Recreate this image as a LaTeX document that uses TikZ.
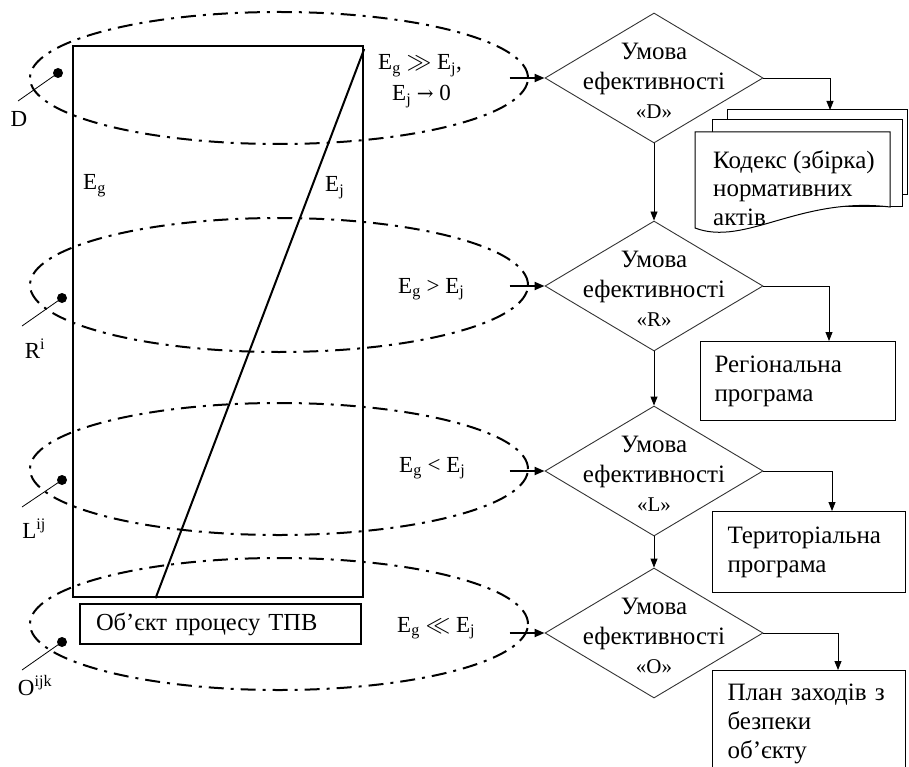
\documentclass[tikz,border=0pt]{standalone}
\usepackage{fontspec}
\setmainfont{Liberation Serif}
\newfontfamily\symfnt{DejaVu Serif}
\usetikzlibrary{shapes.geometric,arrows.meta,calc}
\begin{document}
\begin{tikzpicture}[x=1pt,y=-1pt,
  txt/.style={font=\fontsize{25}{29.5}\selectfont, inner sep=0pt},
  lab/.style={font=\fontsize{23}{27}\selectfont, inner sep=0pt, anchor=base west},
  cond/.style={draw=black!80, line width=0.9pt, shape=diamond, minimum width=218pt, minimum height=130pt, inner sep=0pt},
  outbox/.style={draw, line width=1.1pt, anchor=north west, align=left, inner xsep=14pt, inner ysep=0pt, font=\fontsize{25}{29}\selectfont},
  flow/.style={line width=0.9pt, -{Triangle[length=9pt,width=7pt]}},
  feed/.style={line width=2pt, -{Triangle[length=10pt,width=8pt]}},
  zone/.style={line width=2pt, dash pattern=on 15pt off 7pt on 3pt off 7pt},
  pin/.style={line width=0.8pt},
  dot/.style={circle, fill, inner sep=0pt, minimum size=10pt},
  docpage/.style={draw, line width=1pt, fill=white},
]
\useasboundingbox (0,0) rectangle (909,767);
\clip (0,0) rectangle (909,767);

% zones
\draw[zone] (279,78) ellipse [x radius=249pt, y radius=66pt];
\draw[zone] (279,285) ellipse [x radius=249pt, y radius=67pt];
\draw[zone] (279,469) ellipse [x radius=249pt, y radius=66pt];
\draw[zone] (279,624) ellipse [x radius=249pt, y radius=66pt];

% field
\node[draw, line width=2.2pt, minimum width=290pt, minimum height=551pt, anchor=north west, inner sep=0pt] (field) at (72,45) {};
\draw[line width=2pt] ($(field.north east)+(0,4)$) -- ($(field.south west)!0.286!(field.south east)$);
\node[draw, line width=2pt, anchor=north west, minimum height=40pt, text width=249pt, inner xsep=16pt, align=left, font=\fontsize{24.5}{29}\selectfont] (obj) at (79,603) {Об’єкт процесу ТПВ};

\node[lab] (eg) at (83,190) {E\textsubscript{g}};
\node[lab] (ej) at (325,192) {E\textsubscript{j}};

% pins
\node[dot] (pD) at (58,73) {};
\coordinate (qD) at (18,101);
\draw[pin] (pD.center) -- (qD);
\node[lab, anchor=center] (nD) at (19,119) {D};

\node[dot] (pR) at (62,298) {};
\coordinate (qR) at (22,326);
\draw[pin] (pR.center) -- (qR);
\node[lab, anchor=center] (nR) at (35,349) {R\textsuperscript{i}};

\node[dot] (pL) at (62,480) {};
\coordinate (qL) at (22,507);
\draw[pin] (pL.center) -- (qL);
\node[lab, anchor=center] (nL) at (34,529) {L\textsuperscript{ij}};

\node[dot] (pO) at (62,642) {};
\coordinate (qO) at (22,670);
\draw[pin] (pO.center) -- (qO);
\node[lab, anchor=center] (nO) at (35,686) {O\textsuperscript{ijk}};

% condition labels
\node[lab] (cD1) at (378,70) {E\textsubscript{g} $\gg$ E\textsubscript{j},};
\node[lab] (cD2) at (392,101) {E\textsubscript{j} {\symfnt\fontsize{20}{24}\selectfont →} 0};
\node[lab] (cR) at (398,293) {E\textsubscript{g} > E\textsubscript{j}};
\node[lab] (cL) at (399,472) {E\textsubscript{g} < E\textsubscript{j}};
\node[lab] (cO) at (397,632) {E\textsubscript{g} $\ll$ E\textsubscript{j}};

% diamonds
\node[cond] (dD) at (654,78) {};
\node[cond] (dR) at (654,286) {};
\node[cond] (dL) at (654,471) {};
\node[cond] (dO) at (654,633) {};
\node[txt, align=center] (tD) at ($(dD.center)+(0,3)$) {Умова\\ефективності\\{\fontsize{21}{29.5}\selectfont«D»}};
\node[txt, align=center] (tR) at ($(dR.center)+(0,3)$) {Умова\\ефективності\\{\fontsize{21}{29.5}\selectfont«R»}};
\node[txt, align=center] (tL) at ($(dL.center)+(0,3)$) {Умова\\ефективності\\{\fontsize{21}{29.5}\selectfont«L»}};
\node[txt, align=center] (tO) at ($(dO.center)+(0,3)$) {Умова\\ефективності\\{\fontsize{21}{29.5}\selectfont«O»}};

% feed arrows
\coordinate (fD) at ($(dD.west)+(-35,0)$);
\coordinate (fR) at ($(dR.west)+(-35,0)$);
\coordinate (fL) at ($(dL.west)+(-35,0)$);
\coordinate (fO) at ($(dO.west)+(-35,0)$);
\draw[feed] (fD) -- (dD.west);
\draw[feed] (fR) -- (dR.west);
\draw[feed] (fL) -- (dL.west);
\draw[feed] (fO) -- (dO.west);

% vertical flow
\draw[flow] (dD.south) -- (dR.north);
\draw[flow] (dR.south) -- (dL.north);
\draw[flow] (dL.south) -- (dO.north);

% document stack
\draw[docpage] (727,110) -- (907,110) -- (907,195) -- (727,195) -- cycle;
\draw[docpage] (712,120) -- (902,120) -- (902,207) -- (712,207) -- cycle;
\draw[docpage] (695,132) -- (890,132) -- (890,207) .. controls (800,196) and (745,247) .. (695,228) -- cycle;
\node[txt, align=left, anchor=west, font=\fontsize{25}{28.5}\selectfont] (tDoc) at (713,188) {Кодекс (збірка)\\нормативних\\актів};
\coordinate (kD) at (830,110);
\draw[flow] (dD.east) -| (kD);

% output boxes
\node[outbox, text width=167pt, minimum height=79pt] (boxR) at (700,341) {Регіональна\\програма};
\node[outbox, text width=163pt, minimum height=81pt, inner xsep=15pt] (boxL) at (712,511) {Територіальна\\програма};
\node[outbox, text width=163pt, minimum height=106pt, inner xsep=15pt] (boxO) at (712,670) {План~заходів~з\\безпеки\\об’єкту};

\draw[flow] (dR.east) -| ($(boxR.north west)+(129,0)$);
\draw[flow] (dL.east) -| ($(boxL.north west)+(120,0)$);
\draw[flow] (dO.east) -| ($(boxO.north west)+(126,0)$);
\end{tikzpicture}
\end{document}
